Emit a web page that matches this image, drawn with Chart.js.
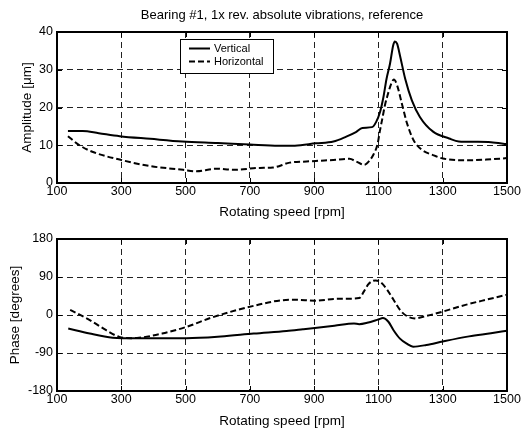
<!DOCTYPE html>
<html><head><meta charset="utf-8">
<script src="https://cdn.jsdelivr.net/npm/chart.js@4.4.0/dist/chart.umd.min.js"></script>
<style>
html,body{margin:0;padding:0;background:#fff;}
#w{position:relative;width:531px;height:432px;background:#fff;}
#c1{position:absolute;left:0;top:0;width:531px;height:220px;}
#c2{position:absolute;left:0;top:220px;width:531px;height:212px;}
</style></head><body>
<div id="w"><canvas id="c1" width="531" height="220"></canvas><canvas id="c2" width="531" height="212"></canvas></div>
<script>
// ---- Data ----
const titleText = "Bearing #1, 1x rev. absolute vibrations, reference";
const xTitle = "Rotating speed [rpm]";
const ampTitle = "Amplitude [\u03bcm]";
const phaseTitle = "Phase [degrees]";
const seriesNames = ["Vertical", "Horizontal"];

const ampRpmV = [134,180,230,295,390,490,600,700,790,840,905,960,1000,1030,1050,1080,1093,1105,1115,1125,1136,1146,1151,1158,1168,1183,1204,1229,1270,1320,1350,1400,1450,1500];
const ampV    = [13.8,13.8,13.2,12.4,11.7,11.0,10.6,10.2,9.9,9.9,10.5,11.0,12.3,13.5,14.6,14.8,16.2,18.8,22.5,27.5,31.6,36.5,37.5,36.9,33.4,27.7,21.9,17.5,13.6,11.8,11.0,10.9,10.8,10.3];

const ampRpmH = [134,170,212,295,388,492,534,596,648,731,772,824,876,917,959,1010,1031,1056,1073,1085,1097,1105,1112,1120,1127,1140,1148,1158,1173,1189,1209,1235,1270,1300,1373,1436,1500];
const ampH    = [12.4,10.0,8.2,6.2,4.5,3.5,3.1,3.8,3.5,4.0,4.1,5.4,5.7,5.9,6.1,6.4,5.7,4.8,6.0,7.6,10.2,14.0,17.0,20.5,22.8,26.3,27.4,25.9,21.0,15.8,11.4,8.8,7.4,6.5,6.0,6.2,6.6];

const phRpmV = [135,202,273,304,406,503,610,712,814,865,902,963,1024,1040,1065,1100,1114,1131,1147,1167,1188,1208,1249,1300,1382,1450,1500];
const phV    = [-32,-44,-54,-55,-55,-55,-51,-44,-38,-34,-31,-25.7,-20,-21.7,-18.5,-10.4,-7,-16,-36,-56,-68,-75,-71,-62.7,-50.6,-43,-37];

const phRpmH = [141,202,253,294,330,355,427,503,580,661,712,794,841,902,963,1004,1040,1055,1070,1091,1106,1127,1147,1167,1188,1213,1249,1300,1371,1440,1500];
const phH    = [12,-12,-36,-52,-55,-54,-44,-28,-6.4,12,21.7,34.5,36,34,38,38.6,40,56,74,82,78,60,36,12,-2.4,-8,-2.4,8,24,37,48];

const xTicks = {min:100, max:1500, step:200};
const ampTicks = {min:0, max:40, step:10};
const phTicks = {min:-180, max:180, step:90};

// ---- Setup ----
const FONT = '"Liberation Sans", Arial, sans-serif';
Chart.defaults.font.family = FONT;
Chart.defaults.color = '#000';

const pts = (xs, ys) => xs.map((x, i) => ({x: x, y: ys[i]}));

const framePlugin = {
  id: 'frame',
  afterDraw(chart) {
    const ctx = chart.ctx, a = chart.chartArea;
    const xs = chart.scales.x, ys = chart.scales.y;
    ctx.save();
    ctx.setLineDash([]);
    ctx.strokeStyle = '#000';
    ctx.lineWidth = 1;
    ctx.beginPath();
    xs.ticks.forEach(t => {
      const p = Math.round(xs.getPixelForValue(t.value)) + 0.5;
      ctx.moveTo(p, a.bottom); ctx.lineTo(p, a.bottom - 5);
      ctx.moveTo(p, a.top); ctx.lineTo(p, a.top + 5);
    });
    ys.ticks.forEach(t => {
      const p = Math.round(ys.getPixelForValue(t.value)) + 0.5;
      ctx.moveTo(a.left, p); ctx.lineTo(a.left + 5, p);
      ctx.moveTo(a.right, p); ctx.lineTo(a.right - 5, p);
    });
    ctx.stroke();
    ctx.lineWidth = 2;
    ctx.strokeRect(a.left, a.top, a.right - a.left, a.bottom - a.top);
    ctx.restore();
  }
};

const legendPlugin = {
  id: 'boxLegend',
  afterDraw(chart) {
    const ctx = chart.ctx;
    const bx = 180.5, by = 39.5, bw = 93, bh = 34;
    ctx.save();
    ctx.fillStyle = '#fff';
    ctx.fillRect(bx, by, bw, bh);
    ctx.strokeStyle = '#000';
    ctx.lineWidth = 1;
    ctx.setLineDash([]);
    ctx.strokeRect(bx, by, bw, bh);
    const rows = [48.5, 61.5];
    chart.data.datasets.forEach((ds, i) => {
      ctx.beginPath();
      ctx.lineWidth = ds.borderWidth;
      ctx.setLineDash(ds.borderDash || []);
      ctx.moveTo(189, rows[i]); ctx.lineTo(210, rows[i]);
      ctx.stroke();
      ctx.setLineDash([]);
      ctx.fillStyle = '#000';
      ctx.font = '11px ' + FONT;
      ctx.textBaseline = 'middle';
      ctx.textAlign = 'left';
      ctx.fillText(ds.label, 214, rows[i]);
    });
    ctx.restore();
  }
};

function makeChart(canvas, datasets, yt, opts) {
  return new Chart(canvas, {
    type: 'line',
    data: {datasets: datasets},
    plugins: opts.plugins,
    options: {
      responsive: false,
      animation: false,
      layout: {padding: {top: opts.padTop, right: 24, left: 0, bottom: 0}},
      elements: {point: {radius: 0}, line: {cubicInterpolationMode: 'monotone'}},
      plugins: {
        legend: {display: false},
        tooltip: {enabled: false},
        title: opts.title ? {
          display: true, text: opts.title, fullSize: false, color: '#000',
          font: {size: 13, weight: 'normal', family: FONT},
          padding: {top: 7.7, bottom: 8.7}
        } : {display: false}
      },
      scales: {
        x: {
          type: 'linear', min: xTicks.min, max: xTicks.max,
          ticks: {stepSize: xTicks.step, padding: 1, font: {size: 12.5}, color: '#000', maxRotation: 0, autoSkip: false,
                  callback: v => String(v)},
          grid: {color: '#222', lineWidth: 1, drawTicks: false},
          border: {display: false, dash: [6, 4]},
          title: {display: true, text: xTitle, color: '#000', font: {size: 13.5}, padding: {top: 0, bottom: opts.xTitlePad}},
          afterFit(s) { s.height = opts.xHeight; }
        },
        y: {
          type: 'linear', min: yt.min, max: yt.max,
          ticks: {stepSize: yt.step, padding: 4, font: {size: 12.5}, color: '#000', callback: v => String(v)},
          grid: {color: '#222', lineWidth: 1, drawTicks: false},
          border: {display: false, dash: [6, 4]},
          title: {display: true, text: opts.yTitle, color: '#000', font: {size: 13.5}, padding: {top: opts.yTitlePad, bottom: 0}},
          afterFit(s) { s.width = 57; }
        }
      }
    }
  });
}

const dsStyle = (label, data, dashed) => ({
  label: label, data: data, borderColor: '#000', backgroundColor: '#000',
  borderWidth: 2, borderDash: dashed ? [6, 3] : [], fill: false, pointRadius: 0
});

makeChart(document.getElementById('c1'), [
  dsStyle(seriesNames[0], pts(ampRpmV, ampV), false),
  dsStyle(seriesNames[1], pts(ampRpmH, ampH), true)
], ampTicks, {padTop: 0, title: titleText, xHeight: 37, xTitlePad: 0, yTitle: ampTitle, yTitlePad: 19, plugins: [framePlugin, legendPlugin]});

makeChart(document.getElementById('c2'), [
  dsStyle(seriesNames[0], pts(phRpmV, phV), false),
  dsStyle(seriesNames[1], pts(phRpmH, phH), true)
], phTicks, {padTop: 19, title: null, xHeight: 41, xTitlePad: 2.2, yTitle: phaseTitle, yTitlePad: 7, plugins: [framePlugin]});
</script>
</body></html>
